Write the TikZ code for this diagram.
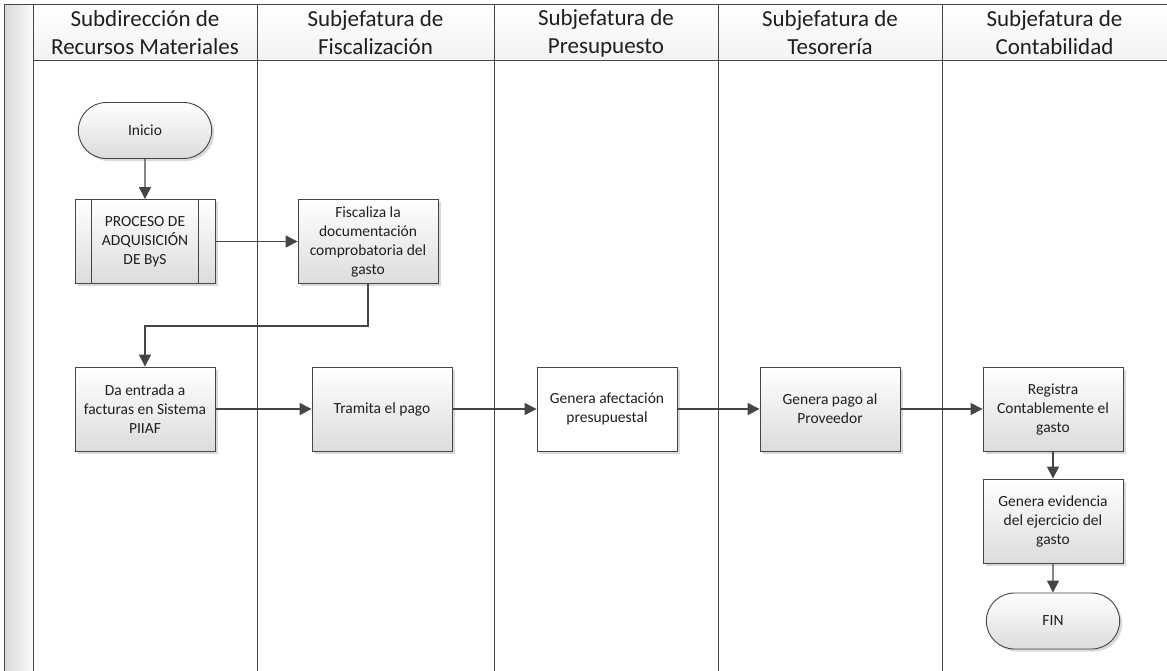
\documentclass[tikz,border=0pt]{standalone}
\usepackage{fontspec}
\setmainfont{Carlito}
\usetikzlibrary{arrows.meta,shadows,shapes.misc}

\definecolor{linegray}{HTML}{454545}
\definecolor{boxgray}{HTML}{DCDCDC}

\begin{document}
\begin{tikzpicture}[x=1pt, y=-1pt,
    lane/.style={draw=linegray, line width=1pt},
    lanetxt/.style={font=\fontsize{23}{28}\selectfont, align=center, text=black!88},
    procbox/.style={draw=linegray, line width=0.9pt, minimum width=140pt, minimum height=84pt,
        top color=white, bottom color=boxgray, align=center, text=black!88,
        font=\fontsize{15.5}{19}\selectfont,
        drop shadow={shadow xshift=2.5pt, shadow yshift=-2.5pt, fill=black, opacity=0.15}},
    plainbox/.style={procbox, top color=white, bottom color=white},
    termbox/.style={procbox, rounded rectangle, minimum height=56pt},
    flow/.style={draw=linegray, line width=1.4pt, -{Triangle[length=12pt,width=12pt]}}
    ]
    \useasboundingbox (0, 0) rectangle (1167, 671);
    %% Lanes
    \fill[top color=white, bottom color=gray!10] (33, 5) rectangle (1167, 61);
    \fill[left color=gray!30, right color=gray!4] (4, 5) rectangle (33, 671);
    \draw[lane] (4, 671) -- (4, 5) -- (1167, 5);
    \draw[lane] (33, 61) -- (1167, 61);
    \draw[lane] (33, 5) -- (33, 671);
    \draw[lane] (257, 5) -- (257, 671);
    \draw[lane] (494, 5) -- (494, 671);
    \draw[lane] (718, 5) -- (718, 671);
    \draw[lane] (942, 5) -- (942, 671);
    %% Lane titles
    \node[lanetxt] (srm) at (145, 33) {Subdirección de\\Recursos Materiales};
    \node[lanetxt] (sfis) at (375.5, 33) {Subjefatura de\\Fiscalización};
    \node[lanetxt] (spre) at (606, 33) {Subjefatura de\\Presupuesto};
    \node[lanetxt] (stes) at (830, 33) {Subjefatura de\\Tesorería};
    \node[lanetxt] (scon) at (1054.5, 33) {Subjefatura de\\Contabilidad};
    %% Steps
    \node[termbox] (inicio) at (145, 130.5) {Inicio};
    \node[procbox] (adq) at (145, 241.5) {PROCESO DE\\ADQUISICIÓN\\DE ByS};
    \node[procbox] (fisc) at (368, 241.5) {Fiscaliza la\\documentación\\comprobatoria del\\gasto};
    \node[procbox] (entrada) at (145, 409) {Da entrada a\\facturas en Sistema\\PIIAF};
    \node[procbox] (tramite) at (382, 409) {Tramita el pago};
    \node[plainbox] (afecta) at (607, 409) {Genera afectación\\presupuestal};
    \node[procbox] (pago) at (830, 409) {Genera pago al\\Proveedor};
    \node[procbox] (registro) at (1053, 409) {Registra\\Contablemente el\\gasto};
    \node[procbox] (evidencia) at (1053, 521) {Genera evidencia\\del ejercicio del\\gasto};
    \node[termbox] (fin) at (1053, 621) {FIN};
    \draw[linegray, line width=0.9pt] ([xshift=17pt]adq.north west) -- ([xshift=17pt]adq.south west);
    \draw[linegray, line width=0.9pt] ([xshift=-17pt]adq.north east) -- ([xshift=-17pt]adq.south east);
    %% Arrows
    \draw[flow] (inicio) -- (adq);
    \draw[flow] (adq) -- (fisc);
    \draw[flow] (fisc.south) -- ++(0, 42) -| (entrada.north);
    \draw[flow] (entrada) -- (tramite);
    \draw[flow] (tramite) -- (afecta);
    \draw[flow] (afecta) -- (pago);
    \draw[flow] (pago) -- (registro);
    \draw[flow] (registro) -- (evidencia);
    \draw[flow] (evidencia) -- (fin);
\end{tikzpicture}
\end{document}
